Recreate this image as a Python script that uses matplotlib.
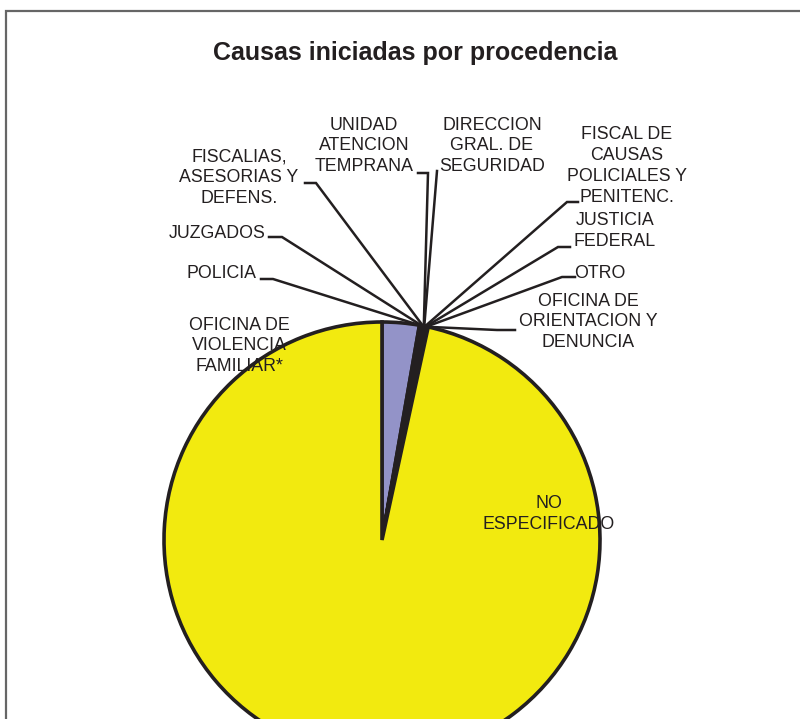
import matplotlib
matplotlib.use('Agg')
import matplotlib.pyplot as plt
import numpy as np
from matplotlib.patches import Rectangle

# datos (porcentaje aproximado de causas por procedencia)
categorias = ['OFICINA DE\nVIOLENCIA\nFAMILIAR*', 'POLICIA', 'JUZGADOS',
              'FISCALIAS,\nASESORIAS Y\nDEFENS.', 'UNIDAD\nATENCION\nTEMPRANA',
              'DIRECCION\nGRAL. DE\nSEGURIDAD',
              'FISCAL DE\nCAUSAS\nPOLICIALES Y\nPENITENC.', 'JUSTICIA\nFEDERAL',
              'OTRO', 'OFICINA DE\nORIENTACION Y\nDENUNCIA', 'NO\nESPECIFICADO']
valores = [2.75, 0.12, 0.10, 0.08, 0.04, 0.03, 0.08, 0.05, 0.05, 0.10, 96.6]
colores = ['#9393C8', '#993366', '#FFFFCC', '#CCFFFF', '#660066', '#FF8080',
           '#0066CC', '#CCCCFF', '#000080', '#FF00FF', '#F2EA0F']

# posiciones de las etiquetas (pixeles, origen arriba a la izquierda)
pos_etiquetas = [(239, 346), (222, 273), (217, 234), (239, 178), (364, 146),
                 (492, 146), (627, 166), (615, 231), (600, 273), (588, 322),
                 (549, 514)]
# lineas guia: extremo junto a la etiqueta y codo (None = sin linea)
guias = [None, ((261, 279), (273, 279)), ((269, 237), (282, 237)),
         ((305, 183), (316, 183)), ((418, 173), (428, 173)),
         ((437, 171), (437, 171)), ((578, 202), (567, 202)),
         ((570, 247), (558, 247)), ((575, 277), (562, 277)),
         ((515, 330), (497, 330)), None]

W, H = 800, 719
oscuro = '#231F20'
fuente = 'Liberation Sans'

fig = plt.figure(figsize=(8, 7.19), dpi=100)
ax = fig.add_axes([0, 0, 1, 1])

cx, cy, r = 382, H - 540, 218
ax.pie(valores, colors=colores, startangle=90, counterclock=False,
       center=(cx, cy), radius=r,
       wedgeprops=dict(edgecolor=oscuro, linewidth=2.6))
ax.set_xlim(0, W)
ax.set_ylim(0, H)
ax.set_aspect('auto')
ax.axis('off')

total = sum(valores)
acum = np.cumsum([0] + valores[:-1])
for i, txt in enumerate(categorias):
    x, y = pos_etiquetas[i]
    ax.text(x, H - y, txt, ha='center', va='center', fontsize=12.8,
            family=fuente, color=oscuro, linespacing=1.3)
    if guias[i] is None:
        continue
    ang = np.deg2rad(360 * (acum[i] + valores[i] / 2) / total)
    px, py = cx + r * np.sin(ang), cy + r * np.cos(ang)
    (x1, y1), (x2, y2) = guias[i]
    ax.plot([x1, x2, px], [H - y1, H - y2, py], color=oscuro, lw=1.8,
            solid_joinstyle='miter', zorder=3)

ax.text(415, H - 53, 'Causas iniciadas por procedencia', ha='center',
        va='center', fontsize=18, fontweight='bold', family=fuente,
        color=oscuro)

ax.add_patch(Rectangle((5.5, -20), W + 20, H - 11 + 20, fill=False,
                       edgecolor='#666666', lw=1.6, clip_on=False))

fig.savefig('out.png', dpi=100)
